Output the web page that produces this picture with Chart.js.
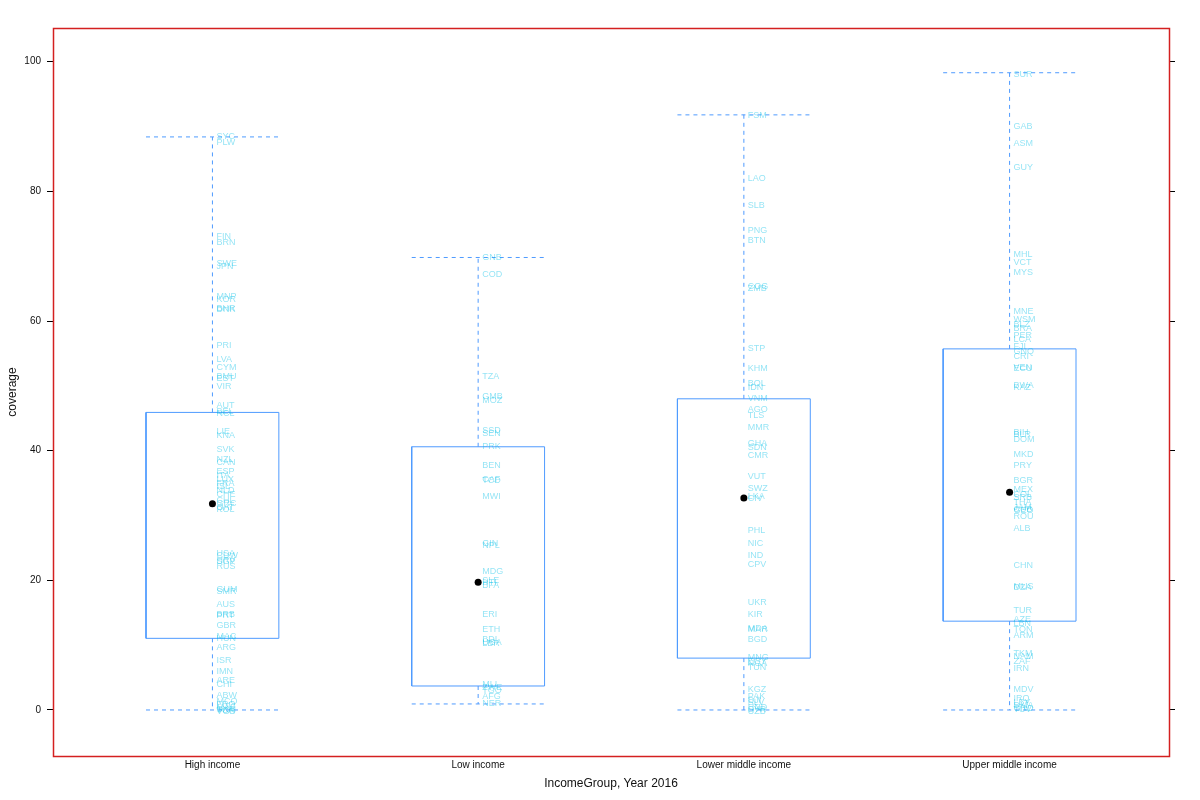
<!DOCTYPE html>
<html>
<head>
<meta charset="utf-8">
<script src="https://cdn.jsdelivr.net/npm/chart.js@4.4.0/dist/chart.umd.min.js"></script>
<style>
html,body{margin:0;padding:0;background:#fff;}
#wrap{width:1200px;height:800px;}
</style>
</head>
<body>
<div id="wrap"><canvas id="c" width="1200" height="800"></canvas></div>
<script>
const categories = ['High income', 'Low income', 'Lower middle income', 'Upper middle income'];
const yTicks = [0, 20, 40, 60, 80, 100];

// box statistics per group
const whiskerLow  = [0, 0.93, 0, 0];
const q1          = [11.05, 3.7, 8.0, 13.7];
const medians     = [31.8, 19.7, 32.7, 33.6];
const q3          = [45.9, 40.6, 48.0, 55.7];
const whiskerHigh = [88.4, 69.8, 91.8, 98.3];

// country labels per group
const highCodes = ['SYC','PLW','FIN','BRN','SWE','JPN','MNP','KOR','BHR','DNK','PRI','LVA','CYM','BMU','EST','VIR','AUT','BEL','NCL','LIE','KNA','SVK','NZL','CAN','ESP','ITA','LUX','FRA','ISL','NLD','CHE','CHL','GRC','QAT','POL','USA','CUW','HRV','SGP','RUS','GUM','SMR','AUS','BRB','PRT','GBR','MAC','HUN','ARG','ISR','IMN','ARE','CHI','ABW','MCO','FRO','MAF','SXM','TCA','VGB'];
const highVals  = [88.4,87.6,73.0,72.1,68.8,68.4,63.8,63.3,62.0,61.8,56.2,54.0,52.9,51.5,51.2,49.9,46.9,46.1,45.8,42.9,42.3,40.2,38.6,38.1,36.8,36.2,35.5,35.0,34.5,33.8,33.3,32.3,31.8,31.3,30.9,24.2,23.9,23.1,22.9,22.2,18.6,18.3,16.2,14.8,14.6,13.0,11.4,11.0,9.6,7.6,5.9,4.5,3.9,2.2,1.3,0.8,0.4,0.1,-0.1,-0.3];

const lowCodes = ['GNB','COD','TZA','GMB','MOZ','SSD','SEN','PRK','BEN','CAF','TCD','MWI','GIN','NPL','MDG','SLE','HTI','BFA','ERI','ETH','BDI','UGA','LBR','MLI','ZWE','TGO','AFG','NER'];
const lowVals  = [69.8,67.1,51.4,48.4,47.7,43.1,42.6,40.6,37.7,35.6,35.4,33.0,25.7,25.3,21.3,19.9,19.7,19.2,14.8,12.4,10.9,10.4,10.2,3.9,3.4,3.0,2.1,1.0];

const lmCodes = ['FSM','LAO','SLB','PNG','BTN','COG','ZMB','STP','KHM','BOL','IDN','VNM','AGO','TLS','MMR','GHA','SDN','CMR','VUT','SWZ','LKA','CIV','PHL','NIC','IND','CPV','UKR','KIR','MDA','MAR','BGD','MNG','EGY','NGA','TUN','KGZ','PAK','DJI','SLV','HND','SYR','UZB'];
const lmVals  = [91.7,82.0,77.8,74.0,72.4,65.3,65.0,55.8,52.7,50.4,49.8,48.1,46.3,45.4,43.6,41.1,40.5,39.2,36.0,34.2,32.9,32.6,27.7,25.7,23.8,22.5,16.6,14.8,12.6,12.4,10.8,8.1,7.4,7.1,6.6,3.2,2.0,1.5,1.2,0.4,0.1,-0.2];

const umCodes = ['SUR','GAB','ASM','GUY','MHL','VCT','MYS','MNE','WSM','BLZ','BRA','PER','LCA','FJI','GNQ','CRI','VEN','ECU','BWA','KAZ','BIH','BLR','DOM','MKD','PRY','BGR','MEX','COL','SRB','THA','JAM','CUB','GEO','ROU','ALB','CHN','MUS','DZA','TUR','AZE','LBN','TON','ARM','TKM','NAM','ZAF','IRN','MDV','IRQ','LBY','DMA','GRD','TUV'];
const umVals  = [98.1,90.0,87.4,83.7,70.2,69.1,67.5,61.5,60.3,59.5,58.8,57.7,57.1,56.0,55.3,54.5,52.8,52.6,50.1,49.7,42.8,42.5,41.7,39.4,37.7,35.4,34.0,33.3,32.8,32.0,31.2,30.9,30.7,29.9,28.0,22.3,19.1,18.9,15.3,14.0,13.4,12.4,11.5,8.7,8.2,7.5,6.4,3.2,1.8,1.2,0.7,0.3,0.0];

const groupCodes = [highCodes, lowCodes, lmCodes, umCodes];
const groupVals  = [highVals, lowVals, lmVals, umVals];

const BOX_HALF = 0.25;
const BLUE = '#4f9bff';

const datasets = [];
categories.forEach((c, i) => {
  const x = i + 1;
  datasets.push({
    type: 'line',
    data: [
      {x: x - BOX_HALF, y: q1[i]}, {x: x + BOX_HALF, y: q1[i]},
      {x: x + BOX_HALF, y: q3[i]}, {x: x - BOX_HALF, y: q3[i]},
      {x: x - BOX_HALF, y: q1[i]}
    ],
    borderColor: BLUE, borderWidth: 1, pointRadius: 0, fill: false, tension: 0
  });
  const segs = [
    [{x: x, y: q3[i]}, {x: x, y: whiskerHigh[i]}],
    [{x: x, y: q1[i]}, {x: x, y: whiskerLow[i]}],
    [{x: x - BOX_HALF, y: whiskerHigh[i]}, {x: x + BOX_HALF, y: whiskerHigh[i]}],
    [{x: x - BOX_HALF, y: whiskerLow[i]}, {x: x + BOX_HALF, y: whiskerLow[i]}]
  ];
  segs.forEach(s => datasets.push({
    type: 'line', data: s, borderColor: BLUE, borderWidth: 1,
    borderDash: [4, 4], pointRadius: 0, fill: false
  }));
});
datasets.push({
  type: 'line',
  data: medians.map((m, i) => ({x: i + 1, y: m})),
  showLine: false, pointRadius: 3.5, pointBackgroundColor: '#000',
  pointBorderColor: '#000', borderWidth: 0
});

const labelPlugin = {
  id: 'labels',
  afterDatasetsDraw(chart) {
    const ctx = chart.ctx;
    const xs = chart.scales.x, ys = chart.scales.y;
    ctx.save();
    ctx.font = "9px 'Liberation Sans', Arial, sans-serif";
    ctx.fillStyle = 'rgba(0,190,230,0.42)';
    ctx.textAlign = 'left';
    ctx.textBaseline = 'middle';
    groupCodes.forEach((codes, i) => {
      const px = xs.getPixelForValue(i + 1) + 4;
      codes.forEach((code, j) => {
        ctx.fillText(code, px, ys.getPixelForValue(groupVals[i][j]));
      });
    });
    ctx.restore();
  },
  afterDraw(chart) {
    const {left, top, right, bottom} = chart.chartArea;
    const ctx = chart.ctx;
    ctx.save();
    ctx.strokeStyle = '#d42020';
    ctx.lineWidth = 1.5;
    ctx.strokeRect(Math.round(left) + 0.5, Math.round(top) + 0.5, Math.round(right - left), Math.round(bottom - top));
    ctx.restore();
  }
};

const fixTicks = (scale) => { scale.ticks = yTicks.map(v => ({value: v})); };

new Chart(document.getElementById('c'), {
  type: 'line',
  data: {datasets},
  plugins: [labelPlugin],
  options: {
    responsive: false,
    animation: false,
    events: [],
    layout: {padding: {top: 28, left: 0, right: 0, bottom: 0}},
    plugins: {legend: {display: false}, tooltip: {enabled: false}, title: {display: false}},
    scales: {
      x: {
        type: 'linear', position: 'bottom', min: 0.4, max: 4.6,
        afterBuildTicks: (s) => { s.ticks = categories.map((c, i) => ({value: i + 1})); },
        afterFit: (s) => { s.height = 44; },
        grid: {display: false, drawTicks: false, tickLength: 0},
        border: {display: false},
        ticks: {
          autoSkip: false, maxRotation: 0, padding: 3,
          color: '#111', font: {size: 10, family: "'Liberation Sans', Arial, sans-serif"},
          callback: (v) => categories[v - 1] || ''
        },
        title: {display: true, text: 'IncomeGroup, Year 2016', color: '#111',
          font: {size: 12, family: "'Liberation Sans', Arial, sans-serif"},
          padding: {top: 4, bottom: 9}}
      },
      y: {
        type: 'linear', position: 'left', min: -7.1, max: 105.2,
        afterBuildTicks: fixTicks,
        afterFit: (s) => { s.width = 53; },
        grid: {drawOnChartArea: false, drawTicks: true, tickLength: 6, color: '#000'},
        border: {display: false},
        ticks: {padding: 6, color: '#111', font: {size: 10, family: "'Liberation Sans', Arial, sans-serif"}},
        title: {display: true, text: 'coverage', color: '#111',
          font: {size: 12, family: "'Liberation Sans', Arial, sans-serif"},
          padding: {top: 5, bottom: 0}}
      },
      y2: {
        type: 'linear', position: 'right', min: -7.1, max: 105.2,
        afterBuildTicks: fixTicks,
        afterFit: (s) => { s.width = 31; },
        grid: {drawOnChartArea: false, drawTicks: true, tickLength: 6, color: '#000'},
        border: {display: false},
        ticks: {callback: () => ''}
      }
    }
  }
});
</script>
</body>
</html>
